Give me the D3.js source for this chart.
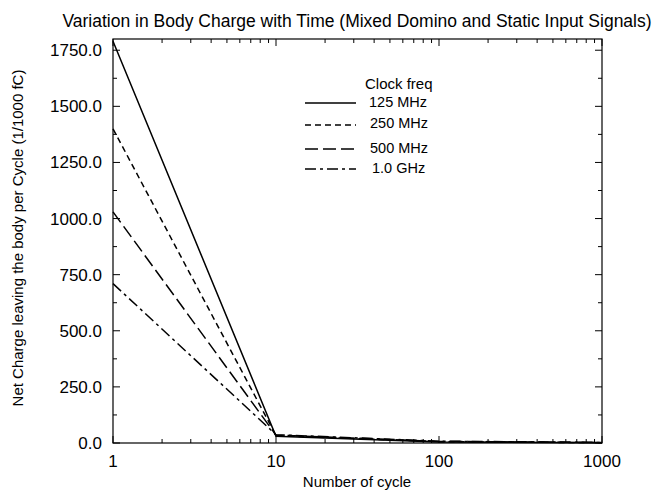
<!DOCTYPE html>
<html><head><meta charset="utf-8">
<script src="https://cdn.jsdelivr.net/npm/d3@7"></script>
<style>body{margin:0;background:#fff}svg{display:block}text{font-family:"Liberation Sans",Arial,sans-serif;fill:#000}</style>
</head><body><svg id="c" width="669" height="492"></svg>
<script>
const cycles = [1, 10, 100, 1000];
const seriesNames = ["125 MHz", "250 MHz", "500 MHz", "1.0 GHz"];
const s125 = [1790, 30, 5, 1];
const s250 = [1400, 33, 6, 1.5];
const s500 = [1030, 35, 7, 2];
const s1g = [710, 37, 8, 2.5];
const yTicks = [0, 250, 500, 750, 1000, 1250, 1500, 1750];
const xTicks = [1, 10, 100, 1000];
const title = "Variation in Body Charge with Time (Mixed Domino and Static Input Signals)";
const xTitle = "Number of cycle";
const yTitle = "Net Charge leaving the body per Cycle (1/1000 fC)";
const legendTitle = "Clock freq";

const allSeries = [s125, s250, s500, s1g];
const dashes = [null, "6,4", "13,5", "11,4,3,4"];

const svg = d3.select("#c");
const m = {l:113, r:602, t:39, b:443};
const x = d3.scaleLog().domain([1,1000]).range([m.l, m.r]);
const y = d3.scaleLinear().domain([0,1800]).range([m.b, m.t]);

svg.append("rect").attr("x",m.l).attr("y",m.t).attr("width",m.r-m.l).attr("height",m.b-m.t)
  .attr("fill","none").attr("stroke","#000").attr("stroke-width",1.2);

const yMinor = d3.range(125, 1800, 250);
const g = svg.append("g").attr("stroke","#000").attr("stroke-width",1);
yTicks.forEach(v=>{
  g.append("line").attr("x1",m.l).attr("x2",m.l+7).attr("y1",y(v)).attr("y2",y(v));
  g.append("line").attr("x1",m.r).attr("x2",m.r-7).attr("y1",y(v)).attr("y2",y(v));
});
yMinor.forEach(v=>{
  g.append("line").attr("x1",m.l).attr("x2",m.l+4).attr("y1",y(v)).attr("y2",y(v));
  g.append("line").attr("x1",m.r).attr("x2",m.r-4).attr("y1",y(v)).attr("y2",y(v));
});
const xMinor = [];
[1,10,100].forEach(d=>{for(let k=2;k<=9;k++) xMinor.push(d*k);});
xTicks.forEach(v=>{
  g.append("line").attr("x1",x(v)).attr("x2",x(v)).attr("y1",m.b).attr("y2",m.b-7);
  g.append("line").attr("x1",x(v)).attr("x2",x(v)).attr("y1",m.t).attr("y2",m.t+7);
});
xMinor.forEach(v=>{
  g.append("line").attr("x1",x(v)).attr("x2",x(v)).attr("y1",m.b).attr("y2",m.b-4);
  g.append("line").attr("x1",x(v)).attr("x2",x(v)).attr("y1",m.t).attr("y2",m.t+4);
});

const fmt = d3.format(".1f");
svg.append("g").selectAll("text").data(yTicks).join("text")
  .attr("x", 102).attr("y", d=>y(d)).attr("dy","0.35em").attr("text-anchor","end")
  .attr("font-size",17).text(d=>fmt(d));
svg.append("g").selectAll("text").data(xTicks).join("text")
  .attr("x", d=>x(d)).attr("y", 467).attr("text-anchor","middle")
  .attr("font-size",17).text(d=>d);

svg.append("text").attr("x",357).attr("y",27).attr("text-anchor","middle").attr("font-size",17.5).text(title);
svg.append("text").attr("x",357).attr("y",487).attr("text-anchor","middle").attr("font-size",15).text(xTitle);
svg.append("text").attr("transform",`translate(23,238) rotate(-90)`).attr("text-anchor","middle").attr("font-size",15).text(yTitle);

const line = d3.line().x((d,i)=>x(cycles[i])).y(d=>y(d));
allSeries.forEach((s,i)=>{
  svg.append("path").attr("d",line(s)).attr("fill","none").attr("stroke","#000")
    .attr("stroke-width",1.5).attr("stroke-dasharray",dashes[i]);
});

svg.append("text").attr("x",365).attr("y",89).attr("font-size",15).text(legendTitle);
const lineY = [103, 125, 149, 169];
const textY = [101.5, 123, 148, 168];
const textX = [369, 370, 370, 372];
seriesNames.forEach((n,i)=>{
  svg.append("line").attr("x1",305).attr("x2",356).attr("y1",lineY[i]).attr("y2",lineY[i])
    .attr("stroke","#000").attr("stroke-width",1.5).attr("stroke-dasharray",dashes[i]);
  svg.append("text").attr("x",textX[i]).attr("y",textY[i]).attr("dy","0.35em").attr("font-size",14.5).text(n);
});
</script></body></html>
